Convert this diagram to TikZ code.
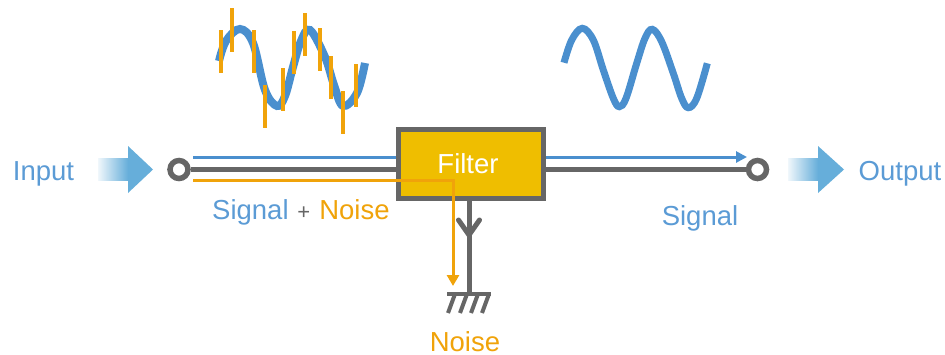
\documentclass[tikz,border=0pt]{standalone}
\usepackage{fontspec}
\setmainfont{Liberation Sans}
\usetikzlibrary{arrows.meta}
\definecolor{sigblue}{HTML}{4A8FCE}
\definecolor{txtblue}{HTML}{5B9BD5}
\definecolor{noiseor}{HTML}{F0A30A}
\definecolor{wiregray}{HTML}{666666}
\definecolor{filteryl}{HTML}{EFBE00}
\definecolor{fatblue}{HTML}{66AEDA}
\tikzset{
  lbl/.style={inner sep=0pt,font=\fontsize{27.5}{30}\selectfont,anchor=base},
  wire/.style={draw=wiregray,line width=5pt},
  terminal/.style={circle,draw=wiregray,line width=5.5pt,fill=white,minimum size=18pt,inner sep=0pt},
  filterbox/.style={rectangle,draw=wiregray,line width=5pt,fill=filteryl,minimum width=145pt,minimum height=69pt,inner sep=0pt},
  sigline/.style={draw=sigblue,line width=3pt},
  noiseline/.style={draw=noiseor,line width=3pt},
  spike/.style={draw=noiseor,line width=3.4pt},
  wave/.style={draw=sigblue,line width=7pt},
}
\newcommand{\fatarrow}[2]{%
  \shade[left color=fatblue!10,right color=fatblue] (#1,158) rectangle (#1+30,180.5);
  \fill[fatblue] (#1+30,146) -- (#2,169.5) -- (#1+30,193) -- cycle;
}
\begin{document}
\begin{tikzpicture}[x=1pt,y=-1pt]
\useasboundingbox (0,0) rectangle (945,354);
% waves
\draw[wave,line width=8pt] plot[smooth,tension=0.6] coordinates {(219,61) (226,41) (240,29) (253,43) (265,90) (277,106) (285,96) (293,67) (301,41) (310,30) (325,57) (334,85) (343,106) (357,93) (365,63)};
\draw[wave] plot[smooth,tension=0.6] coordinates {(564,62.7) (571.7,40) (582.3,28.3) (593.3,40) (603.3,70) (613.3,98.3) (619.3,106.7) (626,98.3) (636.7,63.3) (645,38.3) (652.3,29.3) (661.7,41.7) (673.3,73.3) (681.7,98.3) (688.3,107.7) (696.7,98.3) (707.3,63.3)};
% spikes
\foreach \sx/\sa/\sb in {221/30/73,232/8/52,254/30/73,265/85/128,283/68/111,294/31/74,305/13/56,320/28/71,331/56/99,343/91/134,356/64/107}
  \draw[spike] (\sx,\sa) -- (\sx,\sb);
% fat arrows
\fatarrow{98}{153}
\fatarrow{788}{844}
% nodes
\node[terminal] (in) at (179,169.5) {};
\node[terminal] (out) at (757.5,169.5) {};
\node[filterbox] (filter) at (471,164) {};
\coordinate (gnd) at (469,294);
\coordinate (sigstart) at (193,157);
\coordinate (sigend) at (747,157);
\coordinate (nstart) at (193,180.5);
\coordinate (ncorner) at (453,180.5);
\coordinate (nend) at (453,286);
% wires
\draw[wire] (in) -- (in -| filter.west);
\draw[wire] (out -| filter.east) -- (out);
\draw[sigline] (sigstart) -- (sigstart -| filter.west);
\draw[sigline,-{Triangle[length=11pt,width=11pt]}] (sigstart -| filter.east) -- (sigend);
\draw[wire] (filter.south -| gnd) -- (gnd);
% chevron
\draw[draw=wiregray,line width=5pt,line cap=round,line join=miter] (458.5,220) -- (469,235) -- (479.5,220);
% ground
\draw[draw=wiregray,line width=4pt] (447,294) -- (491,294);
\foreach \hx in {455,467,478,489}
  \draw[draw=wiregray,line width=4pt] (\hx,294) -- (\hx-7,313);
% noise path
\draw[noiseline,-{Triangle[length=11pt,width=12pt]}] (nstart) -- (ncorner) -- (nend);
% labels
\node[lbl,text=white] (ftxt) at (468,173.5) {Filter};
\node[lbl,text=txtblue] (input) at (43.5,180) {Input};
\node[lbl,text=txtblue] (output) at (900,180) {Output};
\node[lbl,text=txtblue] (sig2) at (700,225) {Signal};
\node[lbl,text=noiseor] (noise2) at (465,351.5) {Noise};
\node[lbl,anchor=base west] (sn) at (212,219) {\textcolor{txtblue}{Signal}\hspace{1pt} {\fontsize{22}{26}\selectfont\textcolor{wiregray}{+}} \hspace{1.5pt}\textcolor{noiseor}{Noise}};
\end{tikzpicture}
\end{document}
